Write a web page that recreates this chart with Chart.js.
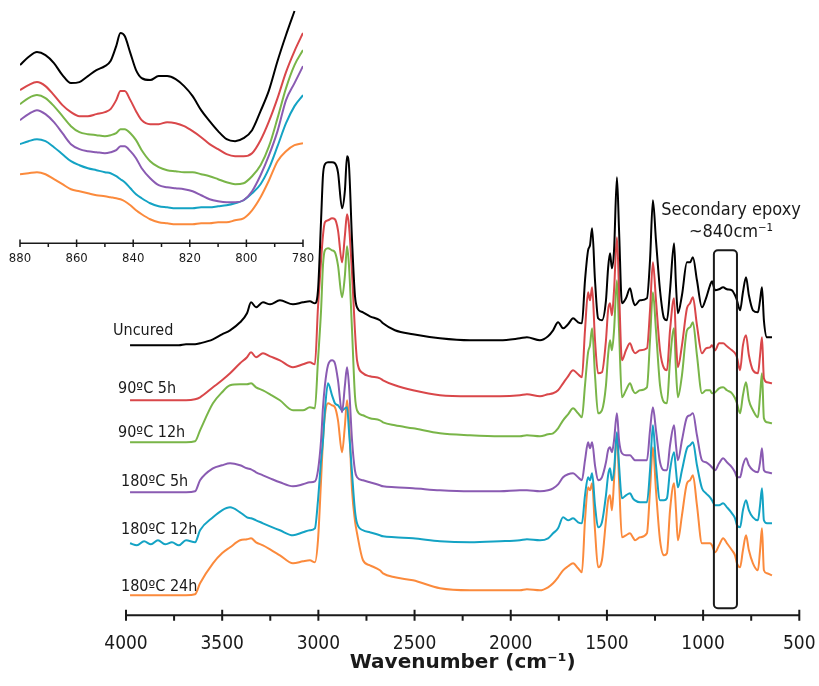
<!DOCTYPE html>
<html>
<head>
<meta charset="utf-8">
<script src="https://cdn.jsdelivr.net/npm/chart.js@4.4.0/dist/chart.umd.min.js"></script>
<style>
  html, body { margin: 0; padding: 0; background: #fff; }
  #wrap { position: relative; width: 819px; height: 686px; }
  .box { position: absolute; left: 0; top: 0; }
</style>
</head>
<body>
<div id="wrap">
  <div class="box" style="width:819px;height:686px"><canvas id="main"></canvas></div>
  <div class="box" style="width:330px;height:275px"><canvas id="inset"></canvas></div>
</div>
<script>
// wavenumber grid shared by all spectra (cm-1)
const wavenumbers = [
  3979, 3943, 3906, 3870, 3834, 3797, 3761, 3725, 3688, 3641,
  3615, 3548, 3501, 3459, 3407, 3371, 3350, 3324, 3288, 3251, 3200, 3132, 3080, 3044,
  3018, 3002, 2986, 2976, 2966, 2950, 2929, 2914, 2898, 2877, 2862, 2851, 2841, 2825, 2810, 2799,
  2768, 2732, 2680, 2664, 2602, 2508, 2368, 2212, 2056, 1952, 1916, 1848, 1806, 1780,
  1754, 1728, 1702, 1676, 1650, 1630, 1614, 1598, 1588, 1577, 1562, 1546, 1526, 1505, 1494, 1484, 1474, 1463, 1448, 1437,
  1422, 1401, 1380, 1365, 1354, 1328, 1292, 1276, 1261, 1245, 1224, 1203, 1188, 1172, 1151, 1141, 1131, 1110, 1084, 1068,
  1053, 1032, 1006, 985, 964, 954, 938, 917, 896, 876, 850, 834, 824, 808, 793, 777, 762, 741, 715, 704,
  694, 684, 668, 642
];

// stacked absorbance (offset, arbitrary units)
const uncured = [
  270, 270, 270, 270, 270, 270, 270, 270, 271, 271,
  272, 276, 281, 285, 293, 302, 313, 308, 313, 311, 315, 311, 313, 314,
  312, 325, 395, 440, 451, 453, 453, 452, 443, 407, 425, 459, 450, 375, 320, 308,
  303, 299, 295, 292, 285, 281, 277, 275, 275, 277, 278, 275, 279, 285,
  293, 287, 291, 297, 293, 292, 335, 365, 370, 387, 335, 297, 295, 315, 347, 362, 347, 365, 438, 385,
  312, 317, 327, 315, 310, 315, 317, 355, 415, 375, 325, 297, 295, 325, 372, 330, 302, 320, 353, 353,
  358, 335, 308, 317, 330, 334, 325, 326, 328, 326, 325, 320, 315, 305, 323, 338, 320, 305, 303, 315,
  328, 295, 278, 278
];
const c90_5h = [
  215, 215, 215, 215, 215, 215, 215, 215, 215, 216,
  218, 228, 235, 242, 252, 258, 263, 258, 262, 259, 255, 248, 251, 253,
  251, 308, 355, 380, 393, 395, 397, 396, 385, 353, 380, 401, 390, 342, 285, 255,
  242, 239, 237, 235, 230, 225, 220, 219, 219, 220, 221, 219, 221, 222,
  225, 232, 239, 245, 241, 238, 285, 323, 315, 328, 275, 242, 243, 275, 305, 312, 300, 325, 378, 325,
  255, 265, 272, 265, 262, 265, 267, 305, 353, 315, 265, 247, 245, 285, 317, 275, 248, 270, 307, 312,
  318, 290, 262, 267, 268, 270, 265, 272, 272, 269, 265, 262, 258, 245, 270, 280, 260, 245, 242, 260,
  278, 237, 233, 232
];
const c90_12h = [
  173, 173, 173, 173, 173, 173, 173, 173, 173, 174,
  185, 212, 223, 230, 231, 231, 232, 228, 225, 221, 215, 205, 205, 208,
  207, 255, 305, 350, 365, 367, 365, 363, 350, 318, 340, 369, 350, 285, 220, 205,
  200, 197, 195, 193, 190, 187, 182, 180, 179, 179, 180, 179, 181, 182,
  187, 195, 201, 207, 202, 198, 230, 263, 270, 287, 240, 202, 205, 230, 260, 275, 265, 285, 335, 285,
  218, 225, 232, 225, 222, 225, 228, 275, 323, 285, 230, 213, 212, 255, 287, 245, 218, 240, 285, 288,
  293, 260, 222, 225, 225, 222, 223, 227, 228, 225, 222, 217, 212, 202, 220, 233, 215, 205, 198, 220,
  242, 197, 193, 192
];
const c180_5h = [
  123, 123, 123, 123, 123, 123, 123, 123, 123, 124,
  135, 147, 150, 152, 150, 147, 146, 143, 140, 137, 133, 129, 131, 133,
  134, 145, 175, 208, 230, 250, 255, 252, 235, 203, 230, 248, 230, 175, 145, 138,
  135, 133, 130, 129, 128, 127, 125, 124, 124, 125, 125, 124, 125, 127,
  131, 138, 141, 142, 138, 135, 155, 173, 167, 173, 150, 135, 138, 153, 165, 168, 163, 175, 202, 175,
  162, 160, 160, 157, 155, 155, 155, 185, 208, 185, 153, 145, 145, 170, 190, 170, 155, 175, 198, 200,
  202, 180, 155, 153, 150, 148, 145, 152, 157, 153, 148, 143, 138, 138, 150, 157, 150, 145, 143, 153,
  167, 145, 143, 142
];
const c180_12h = [
  72, 70, 74, 71, 75, 71, 73, 70, 75, 73,
  85, 98, 105, 108, 103, 98, 97, 95, 92, 89, 85, 80, 83, 85,
  87, 115, 155, 175, 205, 232, 220, 212, 210, 205, 207, 208, 185, 142, 105, 92,
  85, 83, 80, 79, 78, 77, 74, 73, 74, 75, 76, 75, 77, 82,
  87, 98, 95, 97, 93, 92, 120, 138, 135, 142, 110, 88, 93, 120, 140, 147, 135, 145, 183, 150,
  117, 120, 122, 117, 115, 113, 113, 145, 190, 150, 115, 115, 117, 145, 163, 145, 128, 145, 167, 170,
  173, 150, 127, 122, 118, 115, 110, 110, 112, 108, 102, 97, 90, 88, 105, 115, 105, 98, 95, 110,
  127, 95, 92, 92
];
const c180_24h = [
  20, 20, 20, 20, 20, 20, 20, 20, 20, 21,
  32, 52, 62, 68, 75, 76, 77, 73, 70, 66, 60, 52, 54, 55,
  53, 75, 135, 175, 200, 212, 210, 208, 195, 163, 190, 215, 195, 125, 95, 82,
  55, 50, 45, 42, 38, 35, 27, 25, 25, 25, 26, 25, 28, 32,
  38, 45, 49, 52, 47, 43, 95, 128, 125, 132, 85, 48, 55, 95, 115, 120, 105, 135, 182, 135,
  78, 80, 82, 78, 75, 78, 82, 125, 168, 125, 75, 60, 62, 105, 132, 105, 75, 100, 132, 135,
  140, 110, 72, 72, 72, 70, 63, 70, 77, 72, 65, 60, 52, 48, 65, 80, 65, 52, 45, 65,
  87, 45, 42, 40
];

const seriesNames = ["Uncured", "90ºC 5h", "90ºC 12h", "180ºC 5h", "180ºC 12h", "180ºC 24h"];
const seriesColors = ["#000000", "#d9474a", "#79b548", "#8a5bb2", "#14a3c4", "#fb8a3c"];

// inset: zoom of the 880-780 cm-1 window
const insetWavenumbers = [
  880, 877, 874, 871, 868, 865, 862, 859, 856, 853,
  850, 848, 846, 844.5, 843, 841, 839, 837, 834, 831,
  828, 825, 822, 819, 816, 813, 810, 807, 804, 801,
  798, 795, 792, 789, 786, 783, 780
];
const insetUncured = [178, 186, 191, 188, 180, 168, 160, 161, 167, 173, 177, 182, 197, 210, 207, 190, 173, 165, 163, 167, 167, 164, 157, 147, 133, 122, 112, 104, 102, 105, 113, 132, 153, 182, 208, 232, null];
const inset90_5h = [153, 158, 161, 157, 148, 138, 131, 127, 127, 129, 131, 134, 143, 152, 152, 143, 132, 123, 119, 119, 121, 120, 117, 112, 106, 99, 94, 89, 87, 87, 90, 103, 122, 145, 171, 192, 210];
const inset90_12h = [139, 145, 148, 145, 137, 127, 117, 111, 109, 108, 107, 108, 110, 114, 114, 110, 103, 93, 82, 76, 73, 72, 71, 71, 69, 67, 64, 61, 59, 60, 67, 78, 97, 125, 155, 178, 193];
const inset180_5h = [123, 129, 133, 129, 121, 110, 99, 94, 92, 91, 90, 91, 93, 97, 97, 92, 85, 75, 65, 58, 56, 55, 54, 52, 48, 44, 42, 41, 41, 43, 52, 68, 88, 112, 143, 160, 177];
const inset180_12h = [99, 102, 104, 102, 96, 89, 82, 78, 75, 73, 71, 70, 67, 64, 61, 55, 49, 45, 40, 37, 36, 35, 35, 35, 36, 36, 37, 38, 40, 43, 50, 59, 75, 97, 120, 137, 148];
const inset180_24h = [69, 70, 71, 69, 64, 59, 54, 52, 50, 48, 47, 46, 45, 44, 42, 38, 33, 29, 24, 21, 20, 19, 19, 19, 20, 20, 21, 21, 23, 25, 33, 46, 63, 82, 92, 98, 100];

const mainSeries = [uncured, c90_5h, c90_12h, c180_5h, c180_12h, c180_24h];
const insetSeries = [insetUncured, inset90_5h, inset90_12h, inset180_5h, inset180_12h, inset180_24h];

// label placement relative to the first point of each trace (px)
const labelOffsets = [[-17, -14], [-12, -11], [-12, -9], [-9, -10], [-9, -13], [-9, -8]];

const FONT = "'DejaVu Sans Condensed', 'DejaVu Sans', sans-serif";
const INK = "#1a1a1a";

function makeDatasets(xs, list) {
  return list.map((ys, i) => ({
    label: seriesNames[i],
    data: xs.map((w, j) => ({ x: w, y: ys[j] })),
    borderColor: seriesColors[i],
    borderWidth: 2,
    pointRadius: 0,
    fill: false,
    cubicInterpolationMode: "monotone"
  }));
}

// axis line with ticks crossing for major, hanging for minor
function drawAxis(chart, from, to, minorStep, majorStep, up, down, width) {
  const { ctx, scales: { x }, chartArea } = chart;
  const y0 = chartArea.bottom;
  ctx.save();
  ctx.strokeStyle = INK;
  ctx.lineWidth = width;
  ctx.beginPath();
  ctx.moveTo(x.getPixelForValue(from), y0);
  ctx.lineTo(x.getPixelForValue(to), y0);
  for (let v = to; v <= from; v += minorStep) {
    const px = x.getPixelForValue(v);
    const major = (v - to) % majorStep === 0;
    ctx.moveTo(px, major ? y0 - up : y0);
    ctx.lineTo(px, y0 + down);
  }
  ctx.stroke();
  ctx.restore();
}

const mainDecor = {
  id: "mainDecor",
  afterDatasetsDraw(chart) {
    const { ctx, scales: { x, y } } = chart;
    drawAxis(chart, 4000, 500, 250, 500, 5.5, 5.5, 2);

    ctx.save();
    ctx.fillStyle = INK;
    ctx.font = "16px " + FONT;
    ctx.textAlign = "left";
    ctx.textBaseline = "middle";
    mainSeries.forEach((ys, i) => {
      const px = x.getPixelForValue(wavenumbers[0]) + labelOffsets[i][0];
      const py = y.getPixelForValue(ys[0]) + labelOffsets[i][1];
      ctx.fillText(seriesNames[i], px, py);
    });

    // secondary epoxy window
    const x1 = x.getPixelForValue(944), x2 = x.getPixelForValue(824);
    const yTop = y.getPixelForValue(365), yBot = y.getPixelForValue(7);
    ctx.strokeStyle = INK;
    ctx.lineWidth = 2;
    ctx.beginPath();
    ctx.roundRect(x1, yTop, x2 - x1, yBot - yTop, 4);
    ctx.stroke();

    ctx.font = "18px " + FONT;
    ctx.textAlign = "center";
    const tx = x.getPixelForValue(855);
    ctx.fillText("Secondary epoxy", tx, y.getPixelForValue(405));
    ctx.fillText("~840cm⁻¹", tx, y.getPixelForValue(383));
    ctx.restore();
  }
};

const insetDecor = {
  id: "insetDecor",
  afterDatasetsDraw(chart) {
    drawAxis(chart, 880, 780, 10, 20, 3.7, 3.7, 1.5);
  }
};

new Chart(document.getElementById("main"), {
  type: "line",
  data: { datasets: makeDatasets(wavenumbers, mainSeries) },
  options: {
    responsive: true,
    maintainAspectRatio: false,
    animation: false,
    events: [],
    layout: { padding: { left: 126, right: 19.7, top: 145.3, bottom: 0 } },
    plugins: { legend: { display: false }, tooltip: { enabled: false } },
    scales: {
      x: {
        type: "linear",
        reverse: true,
        min: 500,
        max: 4000,
        grid: { display: false, drawTicks: true, tickLength: 17 },
        border: { display: false },
        ticks: {
          stepSize: 500,
          padding: 0,
          color: INK,
          font: { family: FONT, size: 19 },
          maxRotation: 0,
          callback: (v) => v
        },
        title: {
          display: true,
          text: "Wavenumber (cm⁻¹)",
          color: INK,
          font: { family: "'DejaVu Sans', sans-serif", size: 20, weight: "bold" },
          padding: { top: 0, bottom: 11 }
        },
        afterFit: (scale) => { scale.height = 70.7; }
      },
      y: { display: false, min: 0, max: 470 }
    }
  },
  plugins: [mainDecor]
});

new Chart(document.getElementById("inset"), {
  type: "line",
  data: { datasets: makeDatasets(insetWavenumbers, insetSeries) },
  options: {
    responsive: true,
    maintainAspectRatio: false,
    animation: false,
    events: [],
    layout: { padding: { left: 20, right: 27, top: 0, bottom: 0 } },
    plugins: { legend: { display: false }, tooltip: { enabled: false } },
    scales: {
      x: {
        type: "linear",
        reverse: true,
        min: 780,
        max: 880,
        grid: { display: false, drawTicks: true, tickLength: 8 },
        border: { display: false },
        ticks: {
          stepSize: 20,
          padding: 0,
          color: INK,
          font: { family: FONT, size: 13 },
          maxRotation: 0,
          callback: (v) => v
        },
        afterFit: (scale) => { scale.height = 31.7; }
      },
      y: { display: false, min: 0, max: 243 }
    }
  },
  plugins: [insetDecor]
});
</script>
</body>
</html>
